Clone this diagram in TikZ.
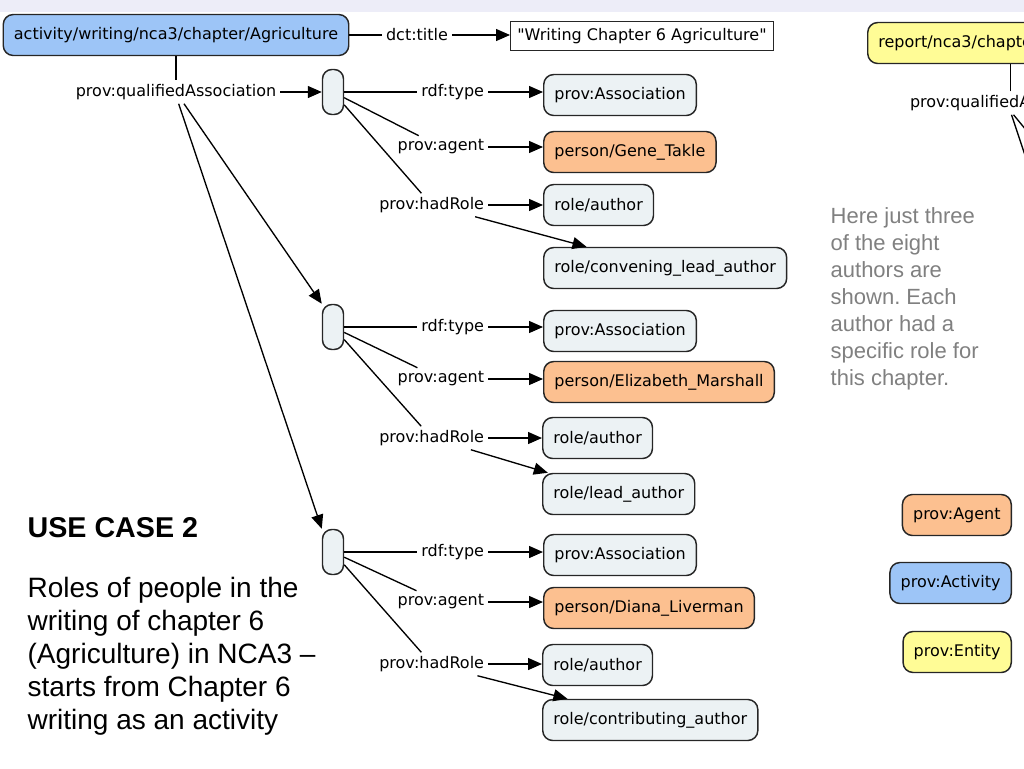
\documentclass[tikz,border=0pt]{standalone}
\usepackage{fontspec}
\setmainfont{DejaVu Sans}
\newfontfamily\notefont{Liberation Sans}
\usetikzlibrary{arrows.meta,positioning}
\frenchspacing

\definecolor{activityblue}{RGB}{157,197,247}
\definecolor{agentorange}{RGB}{252,192,144}
\definecolor{entityyellow}{RGB}{255,252,150}
\definecolor{plainfill}{RGB}{236,242,244}
\definecolor{bandlilac}{RGB}{237,237,248}
\definecolor{notegray}{RGB}{128,128,128}

\begin{document}
\begin{tikzpicture}[
        x=0.75pt, y=-0.75pt,
        line width=1pt,
        >={Triangle[length=10.5pt,width=9pt]},
        concept/.style={draw=black!85, line width=1.1pt, rounded corners=7.5pt, fill=plainfill, minimum height=30.75pt, inner xsep=8pt, font=\fontsize{12}{14}\selectfont},
        activity/.style={concept, fill=activityblue},
        agent/.style={concept, fill=agentorange},
        entity/.style={concept, fill=entityyellow},
        blank/.style={draw=black!85, line width=1.1pt, rounded corners=7pt, fill=plainfill, minimum width=15.75pt, minimum height=33.75pt, inner sep=0pt},
        literal/.style={draw=black!85, fill=white, minimum height=21.75pt, inner xsep=5pt, font=\fontsize{12}{14}\selectfont},
        link/.style={inner sep=2.5pt, font=\fontsize{12}{14}\selectfont}
    ]

  \useasboundingbox (0,0) rectangle (1024,768);
  \clip (0,0) rectangle (1024,768);
  \fill[bandlilac] (0,0) rectangle (1024,12);

  % Top row
  \node[activity] (act) at (176,35) {activity/writing/nca3/chapter/Agriculture};
  \node[link] (title) at (417,35) {dct:title};
  \node[literal, anchor=west] (wtitle) at (510,36) {\textquotedbl Writing Chapter 6 Agriculture\textquotedbl};
  \draw (act) -- (title);
  \draw[->] (title) -- (title -| wtitle.west);

  % Associations
  \node[link] (qa) at (176,92) {prov:qualifiedAssociation};
  \node[blank] (b1) at (333,92) {};
  \node[blank] (b2) at (333,327) {};
  \node[blank] (b3) at (333,552) {};
  \draw (act) -- (qa);
  \draw[->] (qa) -- (b1);
  \draw[->] ([xshift=6pt]qa.south) -- (b2.north west);
  \draw[->] ([xshift=2pt]qa.south) -- (b3.north west);

  % Gene Takle
  \node[link, anchor=east] (ty1) at (488,92) {rdf:type};
  \node[link, anchor=east] (ag1) at (488,147) {prov:agent};
  \node[link, anchor=east] (hr1) at (488,205) {prov:hadRole};
  \node[concept, anchor=west] (as1) at (543,95) {prov:Association};
  \node[agent, anchor=west] (p1) at (543,152) {person/Gene\_Takle};
  \node[concept, anchor=west] (r1) at (543,205) {role/author};
  \node[concept, anchor=west] (rr1) at (543,268) {role/convening\_lead\_author};
  \draw (b1) -- (ty1);
  \draw[->] (ty1) -- (ty1 -| as1.west);
  \draw (b1) -- (ag1);
  \draw[->] (ag1) -- (ag1 -| p1.west);
  \draw (b1) -- (hr1);
  \draw[->] (hr1) -- (hr1 -| r1.west);
  \draw[->] (hr1) -- (rr1);

  % Elizabeth Marshall
  \node[link, anchor=east] (ty2) at (488,327) {rdf:type};
  \node[link, anchor=east] (ag2) at (488,379) {prov:agent};
  \node[link, anchor=east] (hr2) at (488,438) {prov:hadRole};
  \node[concept, anchor=west] (as2) at (543,331) {prov:Association};
  \node[agent, anchor=west] (p2) at (543,382) {person/Elizabeth\_Marshall};
  \node[concept, anchor=west] (r2) at (542,438) {role/author};
  \node[concept, anchor=west] (rr2) at (542,494) {role/lead\_author};
  \draw (b2) -- (ty2);
  \draw[->] (ty2) -- (ty2 -| as2.west);
  \draw (b2) -- (ag2);
  \draw[->] (ag2) -- (ag2 -| p2.west);
  \draw (b2) -- (hr2);
  \draw[->] (hr2) -- (hr2 -| r2.west);
  \draw[->] (hr2) -- (rr2);

  % Diana Liverman
  \node[link, anchor=east] (ty3) at (488,552) {rdf:type};
  \node[link, anchor=east] (ag3) at (488,602) {prov:agent};
  \node[link, anchor=east] (hr3) at (488,664) {prov:hadRole};
  \node[concept, anchor=west] (as3) at (543,555) {prov:Association};
  \node[agent, anchor=west] (p3) at (543,608) {person/Diana\_Liverman};
  \node[concept, anchor=west] (r3) at (542,665) {role/author};
  \node[concept, anchor=west] (rr3) at (542,720) {role/contributing\_author};
  \draw (b3) -- (ty3);
  \draw[->] (ty3) -- (ty3 -| as3.west);
  \draw (b3) -- (ag3);
  \draw[->] (ag3) -- (ag3 -| p3.west);
  \draw (b3) -- (hr3);
  \draw[->] (hr3) -- (hr3 -| r3.west);
  \draw[->] (hr3) -- (rr3);

  % Report, cut at the edge
  \node[entity, anchor=west] (rep) at (867,43) {report/nca3/chapter/agriculture};
  \node[link, anchor=west] (rqa) at (906,103) {prov:qualifiedAssociation};
  \coordinate (off1) at (1070,290);
  \coordinate (off2) at (1100,220);
  \draw (rqa) -- (rqa |- rep.south);
  \draw ([xshift=1pt]rqa.south) -- (off1);
  \draw ([xshift=2.5pt]rqa.south) -- (off2);

  % Legend
  \node[agent, anchor=east] (lagent) at (1012,515) {prov:Agent};
  \node[activity, anchor=east] (lactivity) at (1012,583) {prov:Activity};
  \node[entity, anchor=east] (lentity) at (1012,652) {prov:Entity};

  % Texts
  \node[anchor=north west, inner sep=0pt, align=left, text=notegray, font=\notefont\fontsize{16.5}{20.25}\selectfont] (note) at (830,207) {Here just three\\of the eight\\authors are\\shown. Each\\author had a\\specific role for\\this chapter.};
  \node[anchor=base west, inner sep=0pt, font=\notefont\bfseries\fontsize{21.5}{26}\selectfont] (usecase) at (27,537) {USE CASE 2};
  \node[anchor=north west, inner sep=0pt, align=left, font=\notefont\fontsize{21}{24.75}\selectfont] (story) at (27,577) {Roles of people in the\\writing of chapter 6\\(Agriculture) in NCA3 –\\starts from Chapter 6\\writing as an activity};
\end{tikzpicture}
\end{document}
